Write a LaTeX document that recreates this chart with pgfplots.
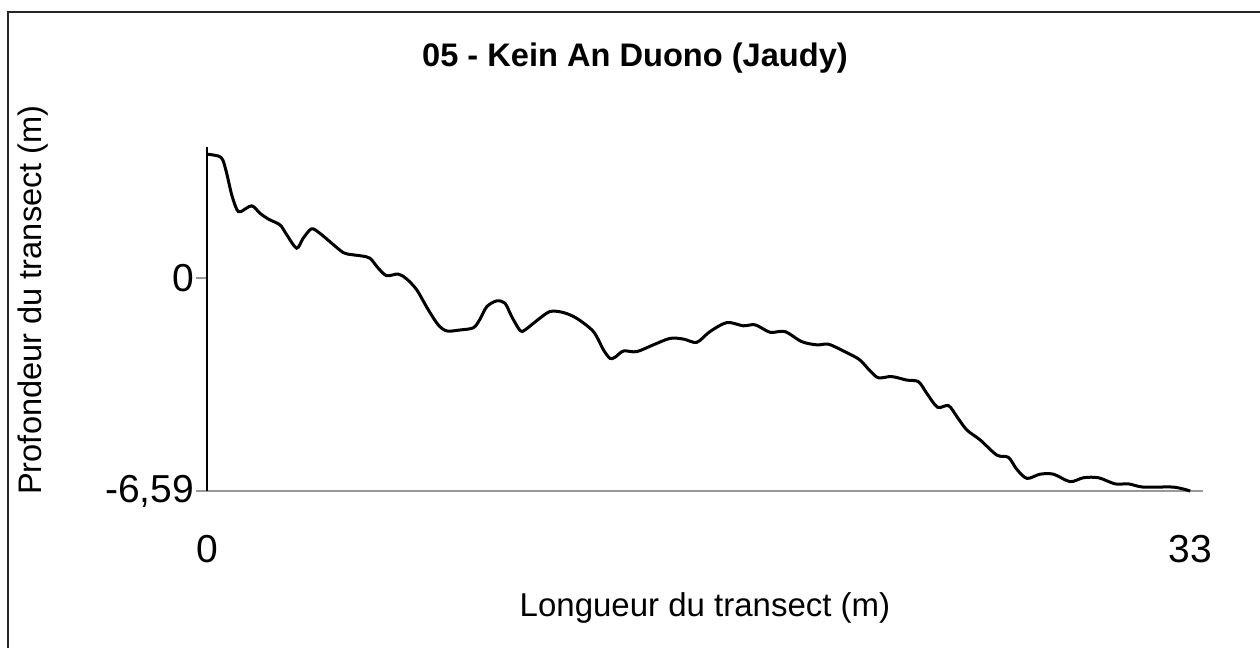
\documentclass[border=0pt]{standalone}
\usepackage{pgfplots}
\pgfplotsset{compat=1.18}
\usepackage{fontspec}
\setmainfont{Liberation Sans}
\begin{document}
\begin{tikzpicture}
\useasboundingbox (0,0) rectangle (630pt,324pt);
\draw[line width=1.2pt, black!85] (4pt,0) -- (4pt,318pt) -- (630pt,318pt);
\node[anchor=base, font=\fontsize{16.3}{19}\selectfont\bfseries] at (317.5pt,290.5pt) {05 - Kein An Duono (Jaudy)};
\node[anchor=base, font=\fontsize{16.5}{19}\selectfont] at (352.5pt,15.5pt) {Longueur du transect (m)};
\node[rotate=90, font=\fontsize{16.3}{19}\selectfont] at (16.5pt,174pt) {Profondeur du transect (m)};
\begin{axis}[
  at={(103.5pt,78.5pt)}, anchor=south west,
  scale only axis, width=498pt, height=172pt,
  xmin=0, xmax=33.43, ymin=-6.59, ymax=4.05,
  axis x line*=bottom, axis y line*=left,
  x axis line style={-, gray!80, line width=0.8pt},
  y axis line style={-, black, line width=0.8pt},
  xtick={0,33}, xticklabels={0,33},
  ytick={-6.59,0}, yticklabels={{-6,59},0},
  xtick style={draw=none},
  ytick style={gray!80, line width=0.8pt},
  tick align=outside, major tick length=5.5pt,
  /pgf/number format/assume math mode=true,
  tick label style={font=\fontsize{19.5}{22}\selectfont},
  xticklabel shift=13pt,
  yticklabel shift=-2.5pt,
  clip=false,
]
\addplot[black, line width=1.5pt, smooth, tension=0.5, mark=none] coordinates {
(0,3.83) (0.38,3.77) (0.53,3.65) (0.66,3.24) (0.83,2.57) (1.00,2.12) (1.13,2.05)
(1.50,2.23) (1.78,2.00) (2.06,1.82) (2.45,1.64) (2.68,1.33) (3.01,0.92) (3.23,1.23)
(3.51,1.52) (3.79,1.38) (4.19,1.07) (4.58,0.78) (4.86,0.72) (5.19,0.68) (5.47,0.61)
(5.75,0.30) (6.03,0.07) (6.42,0.12) (6.70,-0.03) (7.04,-0.37) (7.43,-0.99) (7.76,-1.45)
(8.05,-1.64) (8.49,-1.61) (8.94,-1.54) (9.16,-1.28) (9.39,-0.89) (9.72,-0.71) (10.00,-0.78)
(10.23,-1.20) (10.51,-1.63) (10.67,-1.61) (11.07,-1.32) (11.51,-1.04) (11.96,-1.07)
(12.41,-1.25) (12.97,-1.66) (13.31,-2.23) (13.53,-2.49) (13.70,-2.45) (13.98,-2.26)
(14.42,-2.28) (14.98,-2.07) (15.54,-1.87) (15.99,-1.89) (16.44,-1.99) (16.88,-1.66)
(17.45,-1.38) (18.00,-1.48) (18.40,-1.45) (18.90,-1.68) (19.40,-1.66) (19.96,-1.97)
(20.47,-2.07) (20.86,-2.05) (21.36,-2.26) (21.89,-2.52) (22.26,-2.88) (22.54,-3.09)
(22.98,-3.05) (23.49,-3.16) (23.88,-3.21) (24.16,-3.57) (24.52,-4.00) (24.89,-3.95)
(25.17,-4.29) (25.50,-4.70) (25.95,-5.01) (26.51,-5.48) (26.90,-5.55) (27.18,-5.92)
(27.52,-6.20) (27.96,-6.07) (28.41,-6.07) (28.97,-6.30) (29.42,-6.18) (29.92,-6.18)
(30.48,-6.37) (30.93,-6.37) (31.43,-6.47) (32.44,-6.47) (33.00,-6.59)
};
\end{axis}
\end{tikzpicture}
\end{document}
